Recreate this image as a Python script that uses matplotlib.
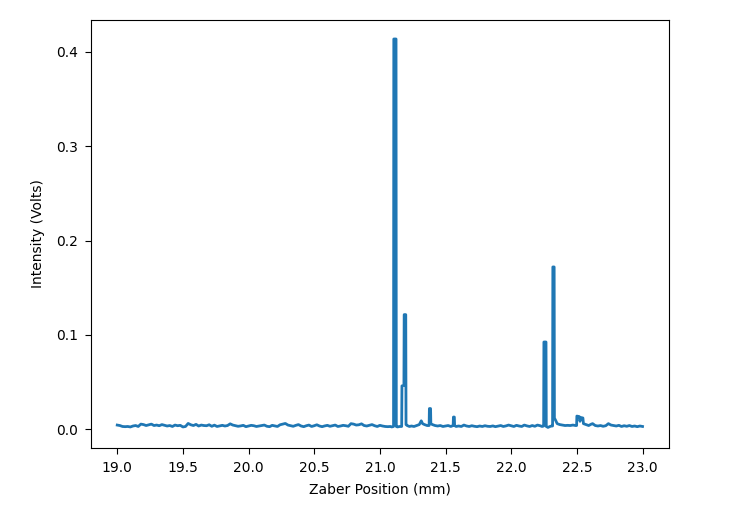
import numpy as np
import matplotlib
matplotlib.use("Agg")
import matplotlib.pyplot as plt

x_start = 19.0
x_step = 0.02
y_left = [0.0045, 0.0040, 0.0030, 0.0028, 0.0030, 0.0025, 0.0035, 0.0040, 0.0030, 0.0055,
          0.0050, 0.0040, 0.0048, 0.0055, 0.0040, 0.0045, 0.0038, 0.0050, 0.0042, 0.0035,
          0.0040, 0.0030, 0.0045, 0.0038, 0.0042, 0.0025, 0.0030, 0.0062, 0.0048, 0.0040,
          0.0052, 0.0035, 0.0045, 0.0040, 0.0038, 0.0048, 0.0032, 0.0044, 0.0030, 0.0036,
          0.0042, 0.0035, 0.0040, 0.0058, 0.0045, 0.0038, 0.0032, 0.0036, 0.0042, 0.0028,
          0.0035, 0.0042, 0.0038, 0.0030, 0.0035, 0.0040, 0.0045, 0.0032, 0.0028, 0.0042,
          0.0036, 0.0030, 0.0048, 0.0055, 0.0062, 0.0045, 0.0038, 0.0032, 0.0042, 0.0050,
          0.0035, 0.0028, 0.0038, 0.0045, 0.0030, 0.0038, 0.0048, 0.0035, 0.0028, 0.0036,
          0.0042, 0.0032, 0.0038, 0.0045, 0.0030, 0.0035, 0.0042, 0.0038, 0.0032, 0.0060,
          0.0055, 0.0045, 0.0048, 0.0058, 0.0040, 0.0035, 0.0042, 0.0050, 0.0038, 0.0030,
          0.0042, 0.0035, 0.0030, 0.0028, 0.0030]

# Peak region and right-hand baseline (positions in mm, intensity in V)
x_right = [21.090, 21.104, 21.106, 21.123, 21.125, 21.134, 21.150, 21.166, 21.168, 21.183,
           21.185, 21.197, 21.199, 21.208, 21.225, 21.240, 21.260, 21.280, 21.300, 21.315,
           21.325, 21.340, 21.360, 21.375, 21.377, 21.386, 21.388, 21.400, 21.420, 21.440,
           21.460, 21.480, 21.500, 21.520, 21.540, 21.558, 21.560, 21.567, 21.569, 21.580,
           21.600, 21.620, 21.640, 21.660, 21.680, 21.700, 21.720, 21.740, 21.760, 21.780,
           21.800, 21.820, 21.840, 21.860, 21.880, 21.900, 21.920, 21.940, 21.960, 21.980,
           22.000, 22.020, 22.040, 22.060, 22.080, 22.100, 22.120, 22.140, 22.160, 22.180,
           22.200, 22.220, 22.235, 22.247, 22.249, 22.265, 22.267, 22.280, 22.295, 22.308,
           22.315, 22.317, 22.327, 22.329, 22.340, 22.350, 22.370, 22.390, 22.410, 22.430,
           22.450, 22.470, 22.490, 22.498, 22.500, 22.518, 22.524, 22.530, 22.546, 22.550,
           22.570, 22.590, 22.610, 22.620, 22.640, 22.660, 22.680, 22.700, 22.720, 22.740,
           22.760, 22.780, 22.800, 22.820, 22.840, 22.860, 22.880, 22.900, 22.920, 22.940,
           22.960, 22.980, 23.000]
y_right = [0.0025, 0.0030, 0.4135, 0.4135, 0.0030, 0.0025, 0.0030, 0.0030, 0.0460, 0.0465,
           0.1215, 0.1215, 0.0050, 0.0040, 0.0030, 0.0035, 0.0030, 0.0040, 0.0050, 0.0090,
           0.0060, 0.0050, 0.0040, 0.0040, 0.0220, 0.0220, 0.0060, 0.0050, 0.0040, 0.0035,
           0.0040, 0.0030, 0.0035, 0.0040, 0.0030, 0.0040, 0.0130, 0.0130, 0.0040, 0.0030,
           0.0035, 0.0030, 0.0045, 0.0035, 0.0030, 0.0038, 0.0032, 0.0028, 0.0035, 0.0030,
           0.0038, 0.0032, 0.0030, 0.0036, 0.0028, 0.0034, 0.0040, 0.0030, 0.0036, 0.0045,
           0.0038, 0.0030, 0.0042, 0.0035, 0.0030, 0.0045, 0.0036, 0.0030, 0.0040, 0.0032,
           0.0045, 0.0038, 0.0030, 0.0035, 0.0925, 0.0925, 0.0030, 0.0020, 0.0030, 0.0035,
           0.0035, 0.1720, 0.1720, 0.0120, 0.0090, 0.0060, 0.0050, 0.0045, 0.0040, 0.0042,
           0.0040, 0.0045, 0.0040, 0.0040, 0.0140, 0.0135, 0.0085, 0.0125, 0.0120, 0.0060,
           0.0050, 0.0040, 0.0055, 0.0060, 0.0040, 0.0035, 0.0040, 0.0032, 0.0038, 0.0060,
           0.0045, 0.0040, 0.0035, 0.0042, 0.0030, 0.0038, 0.0032, 0.0040, 0.0030, 0.0035,
           0.0028, 0.0035, 0.0030]

x_left = x_start + x_step * np.arange(len(y_left))
x = np.concatenate([x_left, x_right])
y = np.concatenate([y_left, y_right])

xticks = [19.0, 19.5, 20.0, 20.5, 21.0, 21.5, 22.0, 22.5, 23.0]
yticks = [0.0, 0.1, 0.2, 0.3, 0.4]

fig = plt.figure(figsize=(7.39, 5.09), dpi=100)
ax = fig.add_axes([0.1231, 0.1204, 0.7819, 0.8403])
ax.plot(x, y, color="#1f77b4", linewidth=2.0)
ax.set_xlim(18.8, 23.2)
ax.set_ylim(-0.0195, 0.4336)
ax.set_xticks(xticks)
ax.set_yticks(yticks)
ax.tick_params(length=4.4, pad=5.0)
ax.set_xlabel("Zaber Position (mm)", labelpad=5.5)
ax.set_ylabel("Intensity (Volts)", labelpad=8)
fig.savefig("out.png", dpi=100)
